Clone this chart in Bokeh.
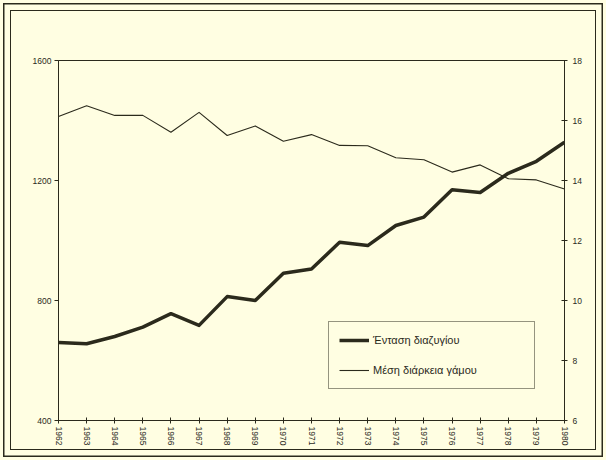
from bokeh.plotting import figure
from bokeh.models import Range1d, LinearAxis, FixedTicker, Legend, LegendItem
from bokeh.embed import file_html
from bokeh.resources import INLINE

years = [1962, 1963, 1964, 1965, 1966, 1967, 1968, 1969, 1970, 1971,
         1972, 1973, 1974, 1975, 1976, 1977, 1978, 1979, 1980]
divorce = [660, 656, 680, 711, 756, 717, 813, 800, 891, 905,
           994, 983, 1050, 1078, 1169, 1160, 1224, 1264, 1328]
duration = [16.13, 16.49, 16.17, 16.17, 15.61, 16.27, 15.50, 15.82, 15.31, 15.53,
            15.17, 15.16, 14.76, 14.69, 14.28, 14.52, 14.06, 14.02, 13.72]
left_ticks = [400, 800, 1200, 1600]
right_ticks = [6, 8, 10, 12, 14, 16, 18]
label_divorce = "Ένταση διαζυγίου"
label_duration = "Μέση διάρκεια γάμου"

BG = "#fffee2"
INK = "#2b2a1c"
FONT = "Liberation Sans"

p = figure(width=606, height=460, output_backend="svg", toolbar_location=None,
           x_range=Range1d(1962, 1980), y_range=Range1d(400, 1600),
           min_border_left=58, min_border_right=42, min_border_top=60, min_border_bottom=40)
p.background_fill_color = BG
p.border_fill_color = None
p.styles = {
    "background-color": BG,
    "box-shadow": (f"inset 0 0 0 3px {BG}, inset 0 0 0 4.5px {INK}, "
                   f"inset 0 0 0 10px {BG}, inset 0 0 0 11px {INK}"),
}
p.outline_line_color = INK
p.outline_line_width = 1
p.xgrid.visible = False
p.ygrid.visible = False

p.extra_y_ranges = {"dur": Range1d(6, 18)}

def style_axis(ax):
    ax.axis_line_color = INK
    ax.axis_line_width = 1
    ax.major_tick_line_color = INK
    ax.major_tick_in = 3
    ax.major_tick_out = 3
    ax.minor_tick_line_color = None
    ax.major_label_text_font = FONT
    ax.major_label_text_font_size = "8.5px"
    ax.major_label_text_color = INK
    ax.major_label_standoff = 3

ya = p.yaxis[0]
ya.ticker = FixedTicker(ticks=left_ticks)
style_axis(ya)
ya.major_tick_in = 0
ya.major_tick_out = 4

xa = p.xaxis[0]
xa.ticker = FixedTicker(ticks=years)
style_axis(xa)
xa.major_label_orientation = "vertical"
xa.major_label_text_font_size = "8.5px"
xa.major_label_standoff = 3

ra = LinearAxis(y_range_name="dur", ticker=FixedTicker(ticks=right_ticks))
style_axis(ra)
ra.major_label_standoff = 5
p.add_layout(ra, "right")

r1 = p.line(years, divorce, line_color=INK, line_width=3.5, line_join="round")
r2 = p.line(years, duration, y_range_name="dur", line_color=INK, line_width=1.1, line_join="round")

legend = Legend(items=[LegendItem(label=label_divorce, renderers=[r1]),
                       LegendItem(label=label_duration, renderers=[r2])],
                location=(270, 31), orientation="vertical")
legend.border_line_color = INK
legend.border_line_width = 1
legend.background_fill_color = BG
legend.background_fill_alpha = 1
legend.padding = 10
legend.spacing = 14
legend.glyph_width = 30
legend.glyph_height = 16
legend.label_height = 16
legend.label_width = 151
legend.label_standoff = 4
legend.margin = 0
legend.label_text_font = FONT
legend.label_text_font_size = "11px"
legend.label_text_color = INK
p.add_layout(legend, "center")

open("out.html", "w").write(file_html(p, INLINE))
